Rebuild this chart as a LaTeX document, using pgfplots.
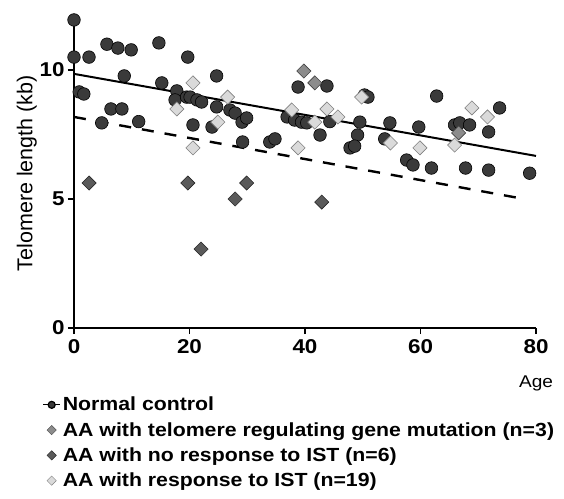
\documentclass[border=0pt]{standalone}
\usepackage{fontspec}
\setmainfont{Liberation Sans}
\newfontfamily\widefont[FakeStretch=1.12]{Liberation Sans}
\usepackage{pgfplots}
\pgfplotsset{compat=1.18}

\definecolor{ctrl}{HTML}{3A3A3A}
\definecolor{mutfill}{HTML}{8C8C8C}
\definecolor{norespfill}{HTML}{5A5A5A}
\definecolor{respfill}{HTML}{DADADA}

\begin{document}
\begin{tikzpicture}
\useasboundingbox (-74pt,-170pt) rectangle (490pt,328pt);
\begin{axis}[
    anchor=south west, at={(0,0)},
    scale only axis,
    width=462pt, height=309.6pt,
    xmin=0, xmax=80, ymin=0, ymax=12,
    axis lines=left,
    axis line style={line width=2pt, -},
    xtick={0,20,40,60,80},
    ytick={0,5,10},
    tick align=outside,
    major tick length=6pt,
    tick style={line width=1.6pt, black},
    /pgf/number format/assume math mode=true,
    ticklabel style={font=\widefont\bfseries\fontsize{20}{20}\selectfont},
    xticklabel style={yshift=-2pt},
    xlabel={Age},
    xlabel style={font=\widefont\fontsize{17}{17}\selectfont, at={(axis description cs:1,0)}, anchor=north, yshift=-44pt},
    ylabel={Telomere length (kb)},
    ylabel style={font=\fontsize{21.5}{21.5}\selectfont, at={(axis description cs:-0.102,0.5)}, anchor=center},
    clip=false,
    legend style={draw=none, fill=none, at={(axis description cs:-0.075,0)}, anchor=north west, yshift=-65pt,
        font=\widefont\bfseries\fontsize{19}{19}\selectfont, row sep=6pt,
        cells={anchor=west}},
    legend cell align=left,
]
% regression lines
\addplot[forget plot, black, line width=2pt] coordinates {(0,9.85) (80,6.67)};
\addplot[forget plot, black, line width=2.4pt, dash pattern=on 12pt off 11pt] coordinates {(0,8.18) (77,5.04)};

% normal control
\addplot[forget plot, only marks, mark=*, mark size=6.3pt, mark options={fill=ctrl, draw=black, line width=0.6pt}] coordinates {
(0,11.94) (0,10.5) (2.6,10.5) (5.7,11.0) (7.6,10.85) (9.9,10.78) (14.7,11.05) (19.7,10.5)
(24.7,9.77) (8.7,9.77) (15.2,9.5) (0.9,9.15) (1.7,9.07) (6.4,8.49) (8.3,8.49) (4.8,7.95)
(11.2,8.0) (17.8,9.19) (17.5,8.84) (19.5,8.95) (20.1,8.95) (21.3,8.84) (22.1,8.76)
(24.7,8.57) (27.0,8.45) (27.9,8.33) (29.1,7.98) (29.9,8.14) (20.6,7.87) (23.9,7.79)
(29.2,7.21) (33.9,7.21) (34.8,7.33) (38.8,9.34) (43.8,9.38) (36.9,8.18) (38.2,8.06)
(39.4,7.98) (40.3,7.95) (44.3,8.0) (42.6,7.48) (49.5,7.98) (49.1,7.48) (47.8,6.98)
(48.6,7.05) (50.3,9.03) (50.9,8.95) (54.7,7.95) (53.8,7.33) (59.7,7.79) (62.8,8.99)
(57.6,6.51) (58.7,6.32) (61.9,6.2) (73.7,8.53) (65.9,7.87) (66.8,7.95) (68.5,7.87)
(71.8,7.6) (67.8,6.2) (71.8,6.12) (78.9,6.0)
};
% response to IST
\addplot[forget plot, only marks, mark=square*, mark size=5pt, mark options={rotate=45, fill=respfill, draw=gray, line width=0.6pt}] coordinates {
(20.6,9.5) (17.8,8.49) (26.6,8.95) (24.9,7.98) (20.6,6.98) (37.7,8.45) (43.8,8.49)
(45.7,8.18) (41.7,7.98) (38.8,6.98) (49.8,8.95) (54.8,7.17) (59.9,6.98) (65.9,7.09)
(68.9,8.53) (71.6,8.18)
};
% telomere regulating gene mutation
\addplot[forget plot, only marks, mark=square*, mark size=5pt, mark options={rotate=45, fill=mutfill, draw=black!75, line width=0.6pt}] coordinates {
(39.8,9.96) (41.7,9.5) (66.6,7.56)
};
% no response to IST
\addplot[forget plot, only marks, mark=square*, mark size=5pt, mark options={rotate=45, fill=norespfill, draw=black!85, line width=0.6pt}] coordinates {
(2.6,5.62) (19.7,5.62) (29.9,5.62) (27.9,5.0) (22.0,3.06) (42.9,4.88)
};

\addlegendimage{black, line width=1.2pt, mark=*, mark size=3.5pt, mark options={fill=ctrl, draw=black}}
\addlegendentry{Normal control}
\addlegendimage{only marks, mark=square*, mark size=3.3pt, mark options={rotate=45, fill=mutfill, draw=black!70}}
\addlegendentry{AA with telomere regulating gene mutation (n=3)}
\addlegendimage{only marks, mark=square*, mark size=3.3pt, mark options={rotate=45, fill=norespfill, draw=black!85}}
\addlegendentry{AA with no response to IST (n=6)}
\addlegendimage{only marks, mark=square*, mark size=3.3pt, mark options={rotate=45, fill=respfill, draw=gray}}
\addlegendentry{AA with response to IST (n=19)}
\end{axis}
\end{tikzpicture}
\end{document}
